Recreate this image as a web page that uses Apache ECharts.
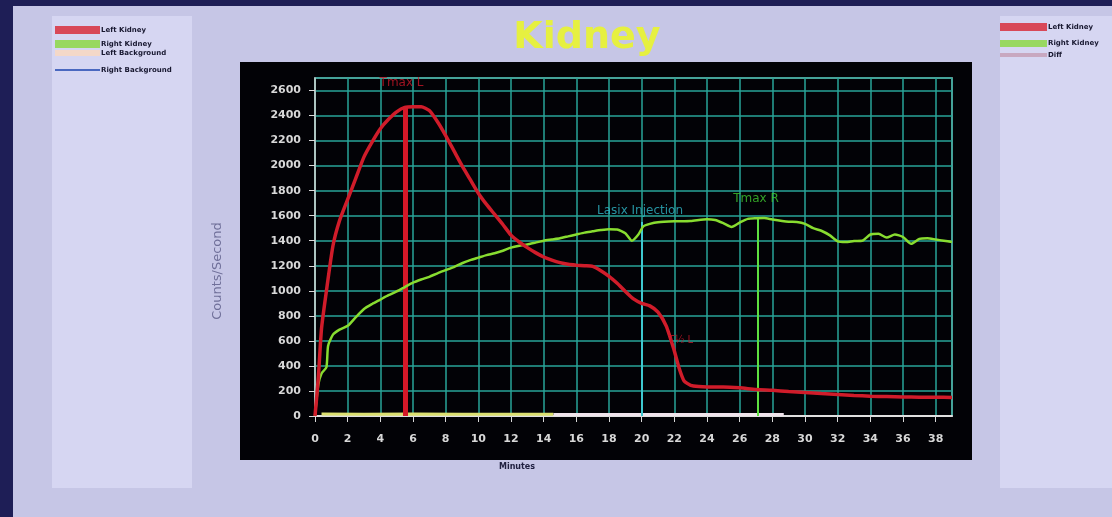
<!DOCTYPE html>
<html>
<head>
<meta charset="utf-8">
<title>Kidney</title>
<script src="https://cdn.jsdelivr.net/npm/echarts@6/dist/echarts.min.js"></script>
<style>
html, body { margin: 0; padding: 0; background: #1e1e56; }
#main { width: 1112px; height: 517px; }
</style>
</head>
<body>
<div id="main"></div>
<script>
// left kidney curve (minutes / counts per second)
var leftT = [0, 0.2, 0.4, 0.7, 1.1, 1.5, 2, 2.5, 3, 3.5, 4, 4.5, 5, 5.5, 6, 6.5, 7, 7.5, 8, 8.5, 9, 9.5, 10, 10.5, 11, 11.5, 12, 12.5, 13, 13.5, 14, 14.5, 15, 15.5, 16, 16.5, 17, 17.5, 18, 18.5, 19, 19.5, 20, 20.5, 21, 21.5, 22, 22.3, 22.6, 23, 23.5, 24, 25, 26, 27, 28, 29, 30, 31, 32, 33, 34, 35, 36, 37, 38, 39]
var leftV = [0, 300, 700, 1000, 1360, 1560, 1730, 1900, 2070, 2190, 2295, 2370, 2430, 2465, 2470, 2470, 2440, 2350, 2240, 2120, 2000, 1890, 1780, 1690, 1610, 1530, 1445, 1390, 1345, 1305, 1270, 1245, 1225, 1212, 1205, 1200, 1195, 1160, 1115, 1060, 995, 935, 900, 880, 830, 720, 520, 380, 280, 245, 235, 232, 232, 225, 212, 205, 195, 188, 180, 172, 164, 158, 155, 152, 150, 150, 148]

// right kidney curve
var rightT = [0, 0.2, 0.4, 0.7, 0.8, 1.1, 1.5, 2, 2.5, 3, 3.5, 4, 4.5, 5, 5.5, 6, 6.5, 7, 7.5, 8, 8.5, 9, 9.5, 10, 10.5, 11, 11.5, 12, 12.5, 13, 13.5, 14, 14.5, 15, 15.5, 16, 16.5, 17, 17.5, 18, 18.5, 19, 19.4, 19.8, 20.1, 20.5, 21, 22, 23, 24, 24.5, 25, 25.5, 26, 26.5, 27, 27.5, 28, 29, 29.5, 30, 30.5, 31, 31.5, 32, 32.5, 33, 33.5, 34, 34.5, 35, 35.5, 36, 36.5, 37, 37.5, 38, 38.5, 39]
var rightV = [0, 250, 340, 390, 560, 650, 690, 720, 790, 855, 895, 930, 965, 995, 1030, 1065, 1090, 1112, 1140, 1165, 1190, 1220, 1245, 1265, 1285, 1300, 1320, 1345, 1360, 1370, 1385, 1400, 1410, 1420, 1435, 1450, 1465, 1475, 1485, 1492, 1490, 1460, 1400, 1450, 1515, 1535, 1548, 1555, 1558, 1572, 1565, 1540, 1510, 1545, 1575, 1580, 1582, 1570, 1552, 1550, 1535, 1500, 1480, 1445, 1395, 1390, 1398, 1400, 1450, 1455, 1425, 1450, 1430, 1375, 1415, 1420, 1410, 1400, 1390]

// background curves (near zero)
var leftBkgT = [0.4, 3, 6, 9, 12, 14.6]
var leftBkgV = [15, 14, 15, 13, 14, 14]
var rightBkgT = [14.6, 18, 22, 26, 28.7]
var rightBkgV = [12, 12, 11, 12, 12]

// vertical markers
var markerNames = ['Tmax L', 'Lasix Injection', 'Tmax R']
var markerTimes = [5.5, 20.0, 27.1]
var markerTops = [2470, 1550, 1585]
var markerColors = ['#d41828', '#3ec8d0', '#5ee040']
var markerWidths = [5, 2, 2]
// annotation text positions
var annotT = [5.3, 19.9, 27.0, 22.4]
var annotV = [2660, 1637, 1733, 600]
var annotText = ['Tmax L', 'Lasix Injection', 'Tmax R', 'T½ L']
var annotColors = ['#c81828', '#30b8c8', '#40c830', '#c01828']

// tick labels
var xTicks = [0, 2, 4, 6, 8, 10, 12, 14, 16, 18, 20, 22, 24, 26, 28, 30, 32, 34, 36, 38]
var yTicks = [0, 200, 400, 600, 800, 1000, 1200, 1400, 1600, 1800, 2000, 2200, 2400, 2600]

// legends in side panels
var leftLegendNames = ['Left Kidney', 'Right Kidney', 'Left Background', 'Right Background']
var leftLegendColors = ['#d84858', '#98d860', '#f4d8c8', '#4a68c0']
var rightLegendNames = ['Left Kidney', 'Right Kidney', 'Diff']
var rightLegendColors = ['#d84858', '#98d860', '#c8a8c0']

function pairs(t, v) {
    return t.map(function (x, i) { return [x, v[i]] })
}

var legendGraphics = []
var leftRows = [[26, 8], [40, 8], [50, 6], [69, 2]]
leftLegendNames.forEach(function (name, i) {
    legendGraphics.push({
        type: 'rect', z: -5,
        shape: { x: 55, y: leftRows[i][0], width: 45, height: leftRows[i][1] },
        style: { fill: leftLegendColors[i] }
    })
    legendGraphics.push({
        type: 'text', z: -5, x: 101, y: leftRows[i][0] + leftRows[i][1] / 2,
        style: { text: name, fill: '#181830', font: 'bold 7px "DejaVu Sans"', verticalAlign: 'middle' }
    })
})
var rightRows = [[23, 8], [40, 7], [53, 4]]
rightLegendNames.forEach(function (name, i) {
    legendGraphics.push({
        type: 'rect', z: -5,
        shape: { x: 1000, y: rightRows[i][0], width: 47, height: rightRows[i][1] },
        style: { fill: rightLegendColors[i] }
    })
    legendGraphics.push({
        type: 'text', z: -5, x: 1048, y: rightRows[i][0] + rightRows[i][1] / 2,
        style: { text: name, fill: '#181830', font: 'bold 7px "DejaVu Sans"', verticalAlign: 'middle' }
    })
})

var chart = echarts.init(document.getElementById('main'))

var option = {
    backgroundColor: '#1e1e56',
    animation: false,
    graphic: [
        // lavender page
        { type: 'rect', z: -20, shape: { x: 13, y: 6, width: 1099, height: 511 }, style: { fill: '#c6c6e6' } },
        // side panels
        { type: 'rect', z: -19, shape: { x: 52, y: 16, width: 140, height: 472 }, style: { fill: '#d6d6f2' } },
        { type: 'rect', z: -19, shape: { x: 1000, y: 16, width: 112, height: 472 }, style: { fill: '#d6d6f2' } },
        // black chart box
        { type: 'rect', z: -19, shape: { x: 240, y: 62, width: 732, height: 398 }, style: { fill: '#020206' } },
        {
            type: 'text', z: -5, x: 587, y: 38,
            style: { text: 'Kidney', fill: '#e6f040', font: 'bold 38px "DejaVu Sans"', align: 'center', verticalAlign: 'middle' }
        },
        {
            type: 'text', z: -5, x: 218, y: 271, rotation: Math.PI / 2,
            style: { text: 'Counts/Second', fill: '#70709a', font: '13px "DejaVu Sans"', align: 'center', verticalAlign: 'middle' }
        },
        {
            type: 'text', z: -5, x: 517, y: 467,
            style: { text: 'Minutes', fill: '#202040', font: 'bold 8px "DejaVu Sans"', align: 'center', verticalAlign: 'middle' }
        }
    ].concat(legendGraphics),
    grid: {
        left: 315, top: 78, width: 637, height: 338,
        show: true, borderColor: '#cfcfcf', borderWidth: 1.5
    },
    xAxis: {
        type: 'value', min: 0, max: 39, interval: 2,
        axisLine: { show: true, lineStyle: { color: '#e0e0e0', width: 2 } },
        axisTick: { show: true, length: 6, lineStyle: { color: '#d8d8d8' } },
        axisLabel: {
            color: '#d8d8d8', fontSize: 11, fontWeight: 'bold', fontFamily: 'DejaVu Sans', margin: 18,
            showMaxLabel: false,
            formatter: function (v) { return xTicks.indexOf(v) >= 0 ? String(v) : '' }
        },
        splitLine: { show: true, lineStyle: { color: '#28a498', width: 1.5 } }
    },
    yAxis: {
        type: 'value', min: 0, max: 2700, interval: 200,
        axisLine: { show: true, lineStyle: { color: '#cfcfcf', width: 1.5 } },
        axisTick: { show: true, length: 6, lineStyle: { color: '#d8d8d8' } },
        axisLabel: {
            color: '#d8d8d8', fontSize: 11, fontWeight: 'bold', fontFamily: 'DejaVu Sans', margin: 14,
            showMaxLabel: false,
            formatter: function (v) { return yTicks.indexOf(v) >= 0 ? String(v) : '' }
        },
        splitLine: { show: true, lineStyle: { color: '#28a498', width: 1.5 } }
    },
    series: [
        {
            name: 'Left Background', type: 'line', data: pairs(leftBkgT, leftBkgV),
            symbol: 'none', lineStyle: { color: '#dce070', width: 3 }, z: 3
        },
        {
            name: 'Right Background', type: 'line', data: pairs(rightBkgT, rightBkgV),
            symbol: 'none', lineStyle: { color: '#f0e4ec', width: 3 }, z: 3
        },
        {
            name: 'Markers', type: 'line', data: [], z: 4,
            markLine: {
                silent: true, symbol: 'none', label: { show: false },
                data: markerTimes.map(function (t, i) {
                    return [
                        { coord: [t, 0], lineStyle: { color: markerColors[i], width: markerWidths[i], type: 'solid' } },
                        { coord: [t, markerTops[i]] }
                    ]
                })
            }
        },
        {
            name: 'Right Kidney', type: 'line', data: pairs(rightT, rightV), smooth: 0.2,
            symbol: 'none', lineStyle: { color: '#88dc30', width: 2.5 }, z: 5
        },
        {
            name: 'Left Kidney', type: 'line', data: pairs(leftT, leftV), smooth: 0.2,
            symbol: 'none', lineStyle: { color: '#d01c2a', width: 3.5 }, z: 6
        },
        {
            name: 'Annotations', type: 'scatter', symbolSize: 0, z: 7,
            data: annotT.map(function (t, i) {
                return {
                    value: [t, annotV[i]],
                    label: {
                        show: true, position: 'inside', formatter: annotText[i],
                        color: annotColors[i], fontSize: i === 3 ? 10 : 12, fontFamily: 'DejaVu Sans'
                    }
                }
            })
        }
    ]
}

chart.setOption(option)
</script>
</body>
</html>
